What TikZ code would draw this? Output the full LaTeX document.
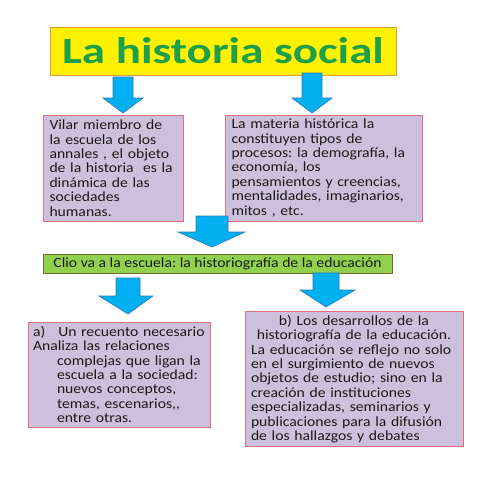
\documentclass[tikz,border=0pt]{standalone}
\usepackage{fontspec}
\setmainfont{Carlito}
\newfontfamily\bodyf[FakeStretch=1.12]{Carlito}
\newfontfamily\titlef[FakeStretch=1.27]{Carlito}
\frenchspacing
\definecolor{arrowblue}{HTML}{00B0F0}
\definecolor{arrowedge}{HTML}{2E75B6}
\definecolor{lilac}{HTML}{CDC0DC}
\definecolor{pinkedge}{HTML}{E0707C}
\definecolor{lime}{HTML}{92D050}
\definecolor{limeedge}{HTML}{7A6A2E}
\definecolor{titleedge}{HTML}{E59A3A}
\definecolor{titlegreen}{HTML}{1E9F4B}
\definecolor{ink}{HTML}{1A1A1A}
\tikzset{
  lilacbox/.style={draw=pinkedge, fill=lilac, line width=0.9pt, inner xsep=6pt, inner ysep=0pt,
    align=left, text=ink, font=\bodyf\frenchspacing\fontsize{14}{14.4}\selectfont},
  blockarrow/.style={fill=arrowblue, draw=arrowedge, line width=0.6pt, line join=miter}
}
\newcommand\barrow[7]{% stemL stemR top headL headR heady tipy
  \draw[blockarrow] ({#1},{#3}) -- ({#2},{#3}) -- ({#2},{#6}) -- ({#5},{#6}) -- ({(#1+#2)/2},{#7})
    -- ({#4},{#6}) -- ({#1},{#6}) -- cycle;}
\begin{document}
\begin{tikzpicture}[x=1pt,y=-1pt]
\useasboundingbox[fill=white] (0,0) rectangle (480,480);
% title
\node[draw=titleedge, fill=yellow, line width=0.9pt, minimum width=346pt, minimum height=48pt, inner sep=0pt,
  font=\titlef\bfseries\fontsize{37}{40}\selectfont, text=titlegreen] (title) at (223,51) {La historia social};
% arrows from title
\barrow{113}{133}{77}{103}{143}{98}{113}
\barrow{302}{322}{73}{292}{332}{98}{113}
% upper boxes
\node[lilacbox, minimum width=140pt, minimum height=106pt, text width=127pt] (vilar) at (113,168)
 {Vilar miembro de\\la escuela de los\\annales , el objeto\\de la historia\ \ es la\\din\'amica de las\\sociedades\\humanas.};
\node[lilacbox, minimum width=197pt, minimum height=106pt, text width=184pt] (materia) at (323.5,168)
 {La materia hist\'orica la\\constituyen tipos de\\procesos: la demograf\'ia, la\\econom\'ia, los\\pensamientos y creencias,\\mentalidades, imaginarios,\\mitos , etc.};
\barrow{196}{228}{216}{178}{245}{232}{247}
% green bar
\node[draw=limeedge, fill=lime, line width=0.9pt, minimum width=349pt, minimum height=19pt, inner sep=0pt,
  text=ink, font=\bodyf\frenchspacing\fontsize{14}{14.4}\selectfont] (clio) at (217.5,263.5)
  {Clio va a la escuela: la historiograf\'ia de la educaci\'on};
\barrow{116}{140}{278}{99}{153}{296}{314}
\barrow{313}{339}{273}{300}{355}{290}{307}
% lower boxes
\node[lilacbox, inner xsep=5pt, minimum width=182pt, minimum height=105pt, text width=172pt] (recuento) at (119,374.5)
 {a)\hspace{13pt}Un recuento necesario\\Analiza las relaciones\\\hspace*{24pt}complejas que ligan la\\\hspace*{24pt}escuela a la sociedad:\\\hspace*{24pt}nuevos conceptos,\\\hspace*{24pt}temas, escenarios,,\\\hspace*{24pt}entre otras.};
\node[lilacbox, inner xsep=6pt, minimum width=218pt, minimum height=135pt, text width=206pt] (desarrollos) at (354,379)
 {\centering b) Los desarrollos de la\\historiograf\'ia de la educaci\'on.\par
  \raggedright La educaci\'on se reflejo no solo\\en el surgimiento de nuevos\\objetos de estudio; sino en la\\creaci\'on de instituciones\\especializadas, seminarios y\\publicaciones para la difusi\'on\\de los hallazgos y debates};
\end{tikzpicture}
\end{document}
